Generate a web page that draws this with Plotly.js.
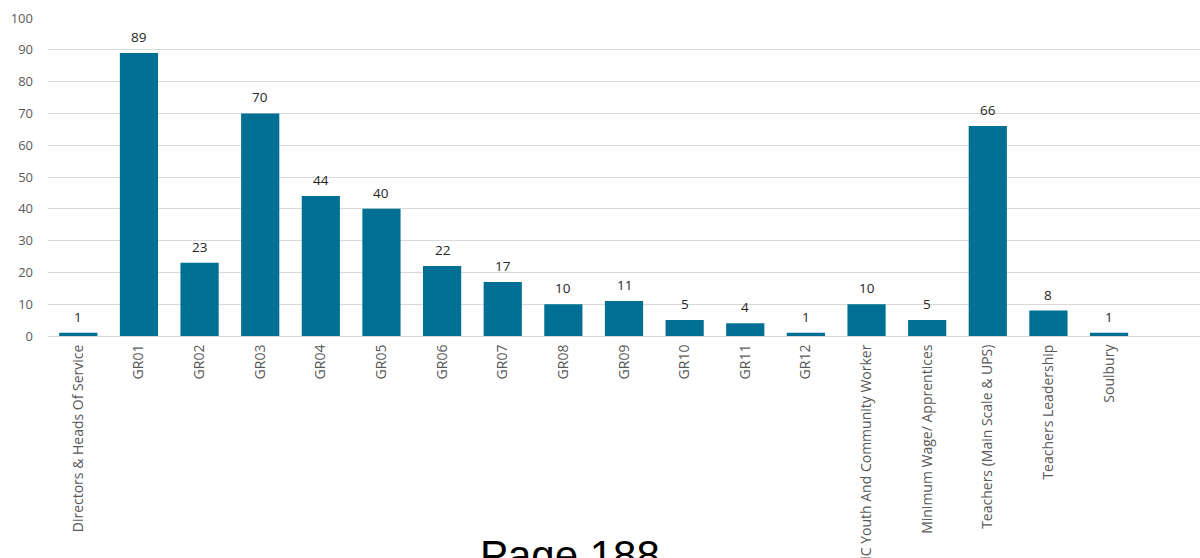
<!DOCTYPE html>
<html>
<head>
<meta charset="utf-8">
<script src="https://cdn.plot.ly/plotly-3.0.1.min.js"></script>
<style>html,body{margin:0;padding:0;background:#fff;overflow:hidden}</style>
</head>
<body>
<div id="chart" style="width:1200px;height:558px"></div>
<script>
const categories = ["Directors & Heads Of Service","GR01","GR02","GR03","GR04","GR05","GR06","GR07","GR08","GR09","GR10","GR11","GR12","JNC Youth And Community Worker","Minimum Wage/ Apprentices","Teachers (Main Scale & UPS)","Teachers Leadership","Soulbury"];
const counts = [1,89,23,70,44,40,22,17,10,11,5,4,1,10,5,66,8,1];
const yTicks = [0,10,20,30,40,50,60,70,80,90,100];

const FONT = '"Open Sans", Lato, sans-serif';

const trace = {
  type: 'bar',
  x: categories.map((c,i)=>i),
  y: counts,
  width: 0.63,
  marker: {color: '#006f94'},
  hoverinfo: 'none'
};

const valueLabels = counts.map((v,i)=>({
  x: i, y: v, xref: 'x', yref: 'y',
  text: String(v),
  showarrow: false,
  xanchor: 'center', yanchor: 'bottom',
  yshift: 5,
  font: {family: FONT, size: 13.5, color: '#262626'}
}));

const layout = {
  width: 1200, height: 558,
  margin: {l: 48, r: 0, t: 18, b: 222, pad: 0},
  paper_bgcolor: '#ffffff', plot_bgcolor: '#ffffff',
  showlegend: false,
  xaxis: {
    range: [-0.5, 18.5],
    tickmode: 'array',
    tickvals: categories.map((c,i)=>i),
    ticktext: categories,
    tickangle: -90,
    ticks: '', ticklen: 0,
    showgrid: false, zeroline: false,
    showline: true, linecolor: '#d9d9d9', linewidth: 1,
    automargin: false,
    ticklabelstandoff: 2,
    tickfont: {family: FONT, size: 14, color: '#595959'}
  },
  yaxis: {
    range: [0, 100],
    tickmode: 'array',
    tickvals: yTicks,
    ticktext: yTicks.map(String),
    showgrid: true, gridcolor: '#d9d9d9', gridwidth: 1,
    zeroline: false, showline: false,
    ticks: '', ticklabelstandoff: 14,
    automargin: false,
    tickfont: {family: FONT, size: 13, color: '#595959'}
  },
  annotations: valueLabels.concat([{
    text: 'Page 188',
    xref: 'paper', yref: 'paper',
    x: (570 - 48) / 1152, y: (336 - 530) / 318,
    xanchor: 'center', yanchor: 'top',
    showarrow: false,
    font: {family: '"Liberation Sans", Arial, sans-serif', size: 42, color: '#000000'}
  }])
};

Plotly.newPlot('chart', [trace], layout, {displayModeBar: false, staticPlot: true});
</script>
</body>
</html>
